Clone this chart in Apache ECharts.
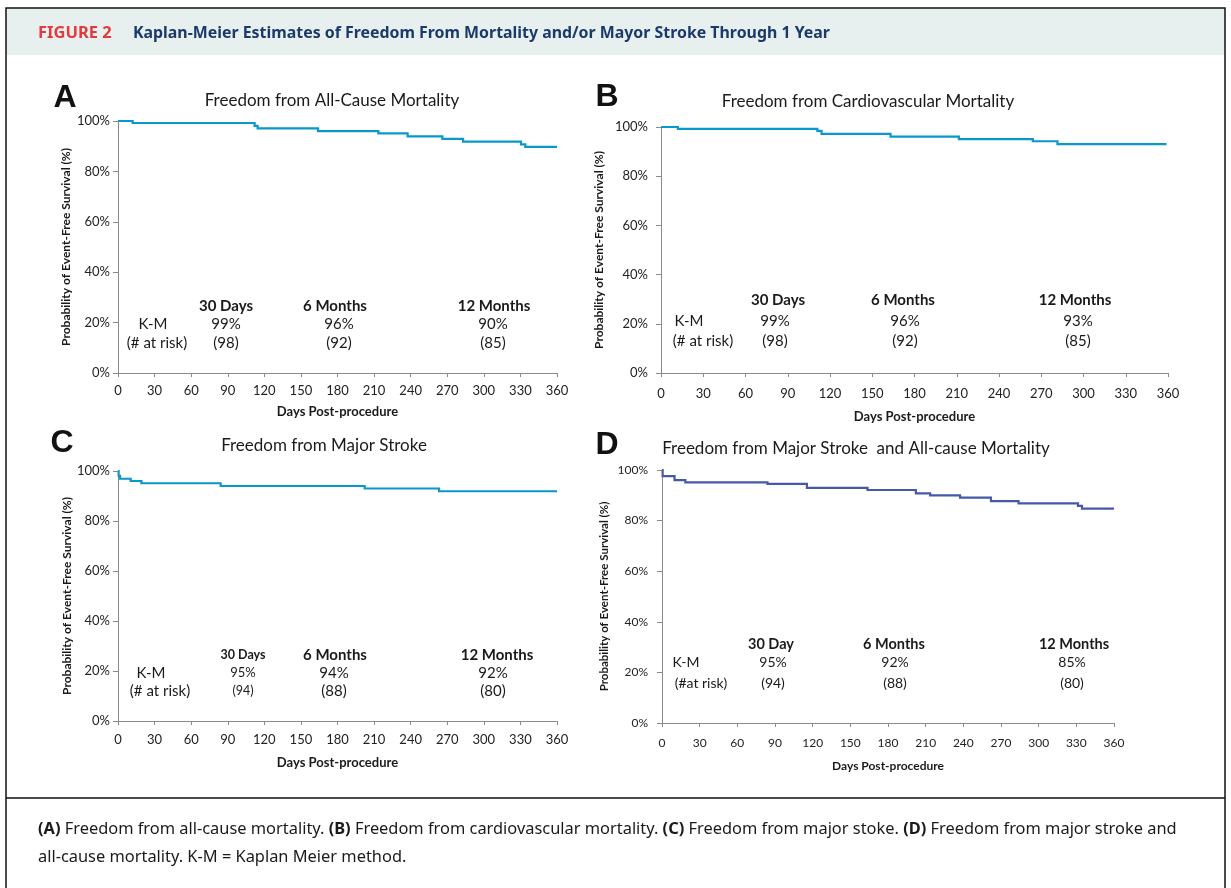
<!DOCTYPE html>
<html><head><meta charset="utf-8">
<script src="https://cdn.jsdelivr.net/npm/echarts@6/dist/echarts.min.js"></script>
<style>html,body{margin:0;padding:0;background:#fff}#c{width:1231px;height:888px}</style>
</head><body><div id="c"></div>
<script>
// ---------------- DATA ----------------
// Kaplan-Meier step curves: event day -> survival (%) from that day on
const daysA = [0, 12, 112, 114.5, 164, 213.5, 237.5, 266, 283, 330.5, 334, 360];
const survA = [100, 99.2, 98.1, 97.1, 96.0, 95.1, 93.9, 92.9, 91.8, 90.7, 89.7, 89.7];
const daysB = [0, 12, 111, 114, 163, 211.5, 264, 281.5, 359];
const survB = [100, 99.2, 98.4, 97.2, 96.1, 95.1, 94.2, 93.0, 93.0];
const daysC = [0, 0.5, 1.7, 10.4, 19.2, 84.2, 202.3, 263.3, 360];
const survC = [100, 98.1, 96.9, 96.0, 95.1, 94.0, 93.0, 91.9, 91.9];
const daysD = [0, 0.5, 10, 18.6, 84, 115.4, 163.7, 202.2, 213.6, 237.4, 262, 284, 331.3, 334.5, 360];
const survD = [100, 97.6, 96.0, 95.1, 94.5, 92.9, 92.1, 90.8, 90.0, 89.1, 87.7, 86.8, 85.8, 84.7, 84.7];

// Milestone tables
const milestonesA = ['30 Days', '6 Months', '12 Months'];
const kmA = ['99%', '96%', '90%'];
const riskA = ['(98)', '(92)', '(85)'];
const milestonesB = ['30 Days', '6 Months', '12 Months'];
const kmB = ['99%', '96%', '93%'];
const riskB = ['(98)', '(92)', '(85)'];
const milestonesC = ['30 Days', '6 Months', '12 Months'];
const kmC = ['95%', '94%', '92%'];
const riskC = ['(94)', '(88)', '(80)'];
const milestonesD = ['30 Day', '6 Months', '12 Months'];
const kmD = ['95%', '92%', '85%'];
const riskD = ['(94)', '(88)', '(80)'];
const rowLabelsABC = ['K-M', '(# at risk)'];
const rowLabelsD = ['K-M', '(#at risk)'];

const panelTitles = ['Freedom from All-Cause Mortality', 'Freedom from Cardiovascular Mortality',
  'Freedom from Major Stroke', 'Freedom from Major Stroke  and All-cause Mortality'];
const panelLetters = ['A', 'B', 'C', 'D'];
const yAxisName = 'Probability of Event-Free Survival (%)';
const xAxisName = 'Days Post-procedure';
const figLabel = 'FIGURE 2';
const figTitle = 'Kaplan-Meier Estimates of Freedom From Mortality and/or Mayor Stroke Through 1 Year';

// ---------------- LAYOUT ----------------
const FONT = 'Lato, "Open Sans", sans-serif';
const panels = [
  {grid: {left: 118, top: 121, width: 439, height: 252}, days: daysA, surv: survA, color: '#0a97c9',
   yGap: 46, xGap: 32, yMargin: 8, xMargin: 11, tickFont: 13, nameFont: 12, xNameFont: 13,
   title: {x: 332, y: 101}, letter: {x: 65, y: 98},
   table: {ms: milestonesA, km: kmA, risk: riskA, rows: rowLabelsABC,
     cols: [226, 339, 493], msX: [226, 335, 494], rowX: [153, 157], ys: [306, 324, 343],
     sizes: [15, 15, 15], firstSizes: [15, 15, 15]}},
  {grid: {left: 661, top: 127, width: 507, height: 246}, days: daysB, surv: survB, color: '#0a97c9',
   yGap: 56, xGap: 37, yMargin: 13, xMargin: 14, tickFont: 13, nameFont: 12, xNameFont: 13,
   title: {x: 868, y: 102}, letter: {x: 607, y: 97},
   table: {ms: milestonesB, km: kmB, risk: riskB, rows: rowLabelsABC,
     cols: [775, 905, 1078], msX: [778, 903, 1075], rowX: [689, 703], ys: [300, 321, 341],
     sizes: [15, 15, 15], firstSizes: [15, 15, 15]}},
  {grid: {left: 118, top: 471, width: 439, height: 250}, days: daysC, surv: survC, color: '#0a97c9',
   yGap: 45, xGap: 35, yMargin: 8, xMargin: 12, tickFont: 13, nameFont: 12, xNameFont: 13,
   title: {x: 324, y: 446}, letter: {x: 62, y: 443},
   table: {ms: milestonesC, km: kmC, risk: riskC, rows: rowLabelsABC,
     cols: [243, 334, 493], msX: [243, 335, 497], rowX: [151, 160], ys: [655, 673, 691],
     sizes: [15, 15, 15], firstSizes: [12.5, 13, 12.5]}},
  {grid: {left: 662, top: 470, width: 452, height: 253}, days: daysD, surv: survD, color: '#4659a8',
   yGap: 52, xGap: 37, yMargin: 14, xMargin: 14, tickFont: 12, nameFont: 11.5, xNameFont: 12,
   title: {x: 856, y: 449}, letter: {x: 607, y: 445},
   table: {ms: milestonesD, km: kmD, risk: riskD, rows: rowLabelsD,
     cols: [773, 895, 1072], msX: [771, 894, 1074], rowX: [686, 701], ys: [644, 662, 683],
     sizes: [14.5, 14, 14], firstSizes: [14.5, 14, 14]}}
];

// Kaplan-Meier curve as explicit step vertices (hold previous value until each event day)
function kmSteps(days, surv) {
  const pts = [[days[0], surv[0]]];
  for (let k = 1; k < days.length; k++) {
    pts.push([days[k], surv[k - 1]]);
    pts.push([days[k], surv[k]]);
  }
  return pts;
}

function txt(text, x, y, size, weight, extra) {
  return {
    type: 'text', x: x, y: y, z: 10,
    style: Object.assign({text: text, fontSize: size, fontWeight: weight || 'normal', fontFamily: FONT,
      fill: '#1a1a1a', align: 'center', verticalAlign: 'middle', textAlign: 'center', textVerticalAlign: 'middle'},
      extra || {})
  };
}

const CAPFONT = '"Noto Sans", sans-serif';
const grids = [], xAxes = [], yAxes = [], series = [];
const graphics = [
  {type: 'rect', shape: {x: 6, y: 8, width: 1219, height: 47}, style: {fill: '#e8f0ef'}, z: 0},
  {type: 'rect', shape: {x: 6, y: 8, width: 1219, height: 900}, style: {fill: 'none', stroke: '#111', lineWidth: 1.5}, z: 1},
  {type: 'line', shape: {x1: 6, y1: 798, x2: 1225, y2: 798}, style: {stroke: '#111', lineWidth: 1.5}, z: 1},
  txt(figLabel, 38, 33, 16.5, 'bold', {fill: '#e23a3f', align: 'left', textAlign: 'left', fontFamily: CAPFONT}),
  txt(figTitle, 133, 33, 15.9, 'bold', {fill: '#1b3a6a', align: 'left', textAlign: 'left', fontFamily: CAPFONT}),
  {type: 'text', x: 38, y: 829, z: 10, style: {
    text: '{b|(A)} Freedom from all-cause mortality. {b|(B)} Freedom from cardiovascular mortality. {b|(C)} Freedom from major stoke. {b|(D)} Freedom from major stroke and',
    fontSize: 16.4, fontFamily: CAPFONT, fill: '#1a1a1a', verticalAlign: 'middle', textVerticalAlign: 'middle',
    rich: {b: {fontWeight: 'bold', fontSize: 16.4, fontFamily: CAPFONT, fill: '#1a1a1a'}}}},
  {type: 'text', x: 38, y: 857, z: 10, style: {
    text: 'all-cause mortality. K-M = Kaplan Meier method.',
    fontSize: 16.4, fontFamily: CAPFONT, fill: '#1a1a1a', verticalAlign: 'middle', textVerticalAlign: 'middle'}}
];

panels.forEach(function (p, i) {
  grids.push(Object.assign({containLabel: false}, p.grid));
  xAxes.push({
    type: 'value', gridIndex: i, min: 0, max: 360, interval: 30,
    name: xAxisName, nameLocation: 'middle', nameGap: p.xGap,
    nameTextStyle: {fontFamily: FONT, fontWeight: 'bold', fontSize: p.xNameFont, color: '#1a1a1a'},
    axisLine: {show: true, onZero: false, lineStyle: {color: '#8a8a8a', width: 1}},
    axisTick: {show: true, inside: false, length: 4, lineStyle: {color: '#8a8a8a'}},
    axisLabel: {fontFamily: FONT, fontSize: p.tickFont, color: '#222', margin: p.xMargin},
    splitLine: {show: false}
  });
  yAxes.push({
    type: 'value', gridIndex: i, min: 0, max: 100, interval: 20,
    name: yAxisName, nameLocation: 'middle', nameGap: p.yGap,
    nameTextStyle: {fontFamily: FONT, fontWeight: 'bold', fontSize: p.nameFont, color: '#1a1a1a'},
    axisLine: {show: true, lineStyle: {color: '#8a8a8a', width: 1}},
    axisTick: {show: true, inside: false, length: 5, lineStyle: {color: '#8a8a8a'}},
    axisLabel: {fontFamily: FONT, fontSize: p.tickFont, color: '#222', margin: p.yMargin, formatter: '{value}%'},
    splitLine: {show: false}
  });
  // Step curve drawn as one polyline through the axis scales (api.coord), so small drops are kept
  const pts = kmSteps(p.days, p.surv);
  const color = p.color;
  series.push({
    type: 'custom', coordinateSystem: 'cartesian2d', xAxisIndex: i, yAxisIndex: i, silent: true,
    encode: {x: 0, y: 1},
    data: pts,
    renderItem: function (params, api) {
      if (params.dataIndex !== 0) return null;
      return {
        type: 'polyline', z2: 10,
        shape: {points: pts.map(function (pt) { return api.coord(pt); })},
        style: {stroke: color, lineWidth: 2.2, fill: null, lineJoin: 'miter'}
      };
    }
  });
  graphics.push(txt(panelLetters[i], p.letter.x, p.letter.y, 32, 'bold', {fontFamily: '"Liberation Sans", Arial, sans-serif', fill: '#111'}));
  graphics.push(txt(panelTitles[i], p.title.x, p.title.y, 17, 'normal'));
  const t = p.table;
  t.ms.forEach(function (m, k) {
    const s = k === 0 ? t.firstSizes : t.sizes;
    graphics.push(txt(m, t.msX[k], t.ys[0], s[0], 'bold'));
    graphics.push(txt(t.km[k], t.cols[k], t.ys[1], s[1], 'normal'));
    graphics.push(txt(t.risk[k], t.cols[k], t.ys[2], s[2], 'normal'));
  });
  graphics.push(txt(t.rows[0], t.rowX[0], t.ys[1], t.sizes[1], 'normal'));
  graphics.push(txt(t.rows[1], t.rowX[1], t.ys[2], t.sizes[2], 'normal'));
});

const chart = echarts.init(document.getElementById('c'), null, {renderer: 'canvas'});
chart.setOption({
  backgroundColor: '#ffffff',
  animation: false,
  grid: grids, xAxis: xAxes, yAxis: yAxes, series: series,
  graphic: graphics
});
</script>
</body></html>
